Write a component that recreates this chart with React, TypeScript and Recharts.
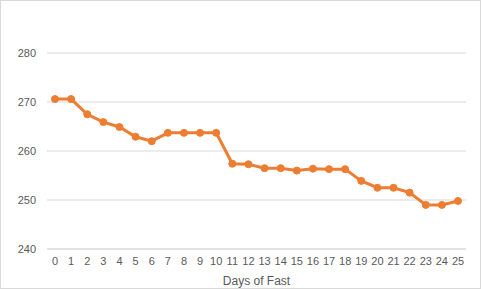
import React from "react";
import { LineChart, Line, XAxis, YAxis, CartesianGrid, Label } from "recharts";

const days = [0,1,2,3,4,5,6,7,8,9,10,11,12,13,14,15,16,17,18,19,20,21,22,23,24,25];
const weights = [270.6,270.6,267.5,265.9,264.9,262.9,262.0,263.7,263.7,263.7,263.7,257.4,257.3,256.5,256.5,256.0,256.4,256.3,256.3,253.9,252.5,252.5,251.5,249.0,249.0,249.8];
const yTicks = [240,250,260,270,280];

const data = days.map((d, i) => ({ day: String(d), weight: weights[i] }));

const font = "'Liberation Sans', Arial, sans-serif";

export default function App() {
  return (
    <div style={{ position: "absolute", left: 0, top: 0, width: 481, height: 289, boxSizing: "border-box", border: "1px solid #d9d9d9", background: "#fff" }}>
      <div style={{ position: "absolute", left: -1, top: -1 }}>
        <LineChart width={481} height={289} data={data} margin={{ top: 53, right: 15, left: 0, bottom: 4 }}>
          <CartesianGrid vertical={false} stroke="#d9d9d9" strokeWidth={1} />
          <XAxis dataKey="day" interval={0} tickLine={false} axisLine={{ stroke: "#d9d9d9" }} height={36} tickMargin={2}
            padding={{ left: 8, right: 8 }}
            tick={{ fill: "#595959", fontSize: 11, fontFamily: font }}>
            <Label value="Days of Fast" position="insideBottom" offset={0} style={{ fill: "#595959", fontSize: 12, fontFamily: font }} />
          </XAxis>
          <YAxis domain={[240, 280]} ticks={yTicks} width={47} tickLine={false} axisLine={false} tickMargin={5}
            tick={{ fill: "#595959", fontSize: 11, fontFamily: font }} />
          <Line type="linear" dataKey="weight" stroke="#ED7D31" strokeWidth={3} isAnimationActive={false}
            dot={{ r: 3.5, fill: "#ED7D31", stroke: "#ED7D31", strokeWidth: 1 }} />
        </LineChart>
      </div>
    </div>
  );
}
